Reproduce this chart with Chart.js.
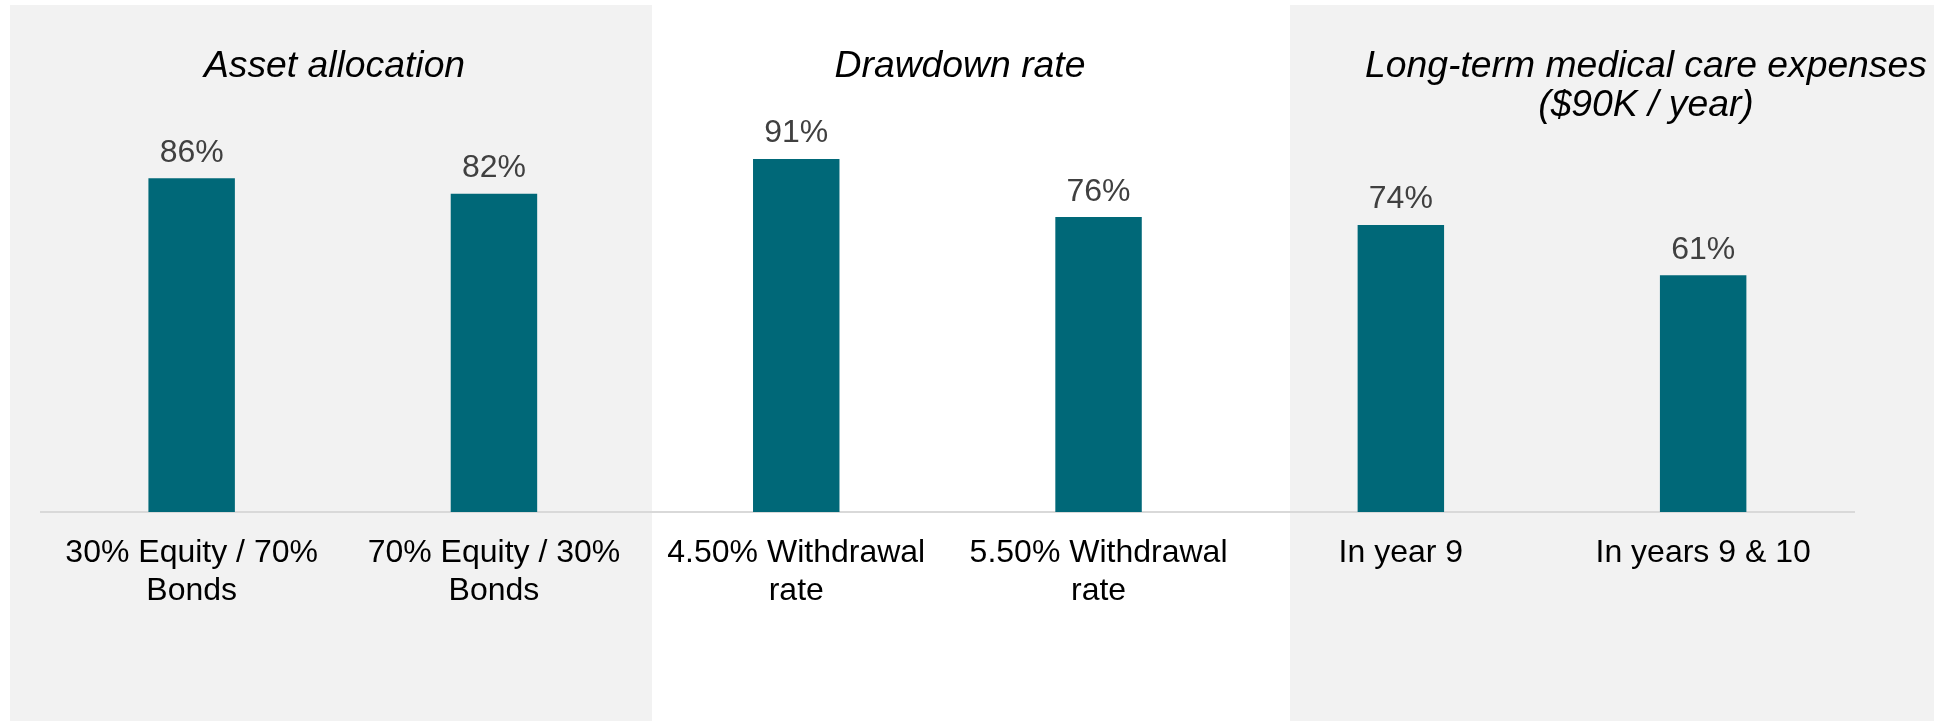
<!DOCTYPE html>
<html>
<head>
<meta charset="utf-8">
<title>Success rates by scenario</title>
<script src="https://cdn.jsdelivr.net/npm/chart.js@4/dist/chart.umd.min.js"></script>
<style>
  html, body { margin: 0; padding: 0; background: #ffffff; }
  #wrap { width: 1934px; height: 723px; }
</style>
</head>
<body>
<div id="wrap"><canvas id="grafico" width="1934" height="723"></canvas></div>
<script>
// categorias e valores (%)
const categorias = [
    ['30% Equity / 70%', 'Bonds'],
    ['70% Equity / 30%', 'Bonds'],
    ['4.50% Withdrawal', 'rate'],
    ['5.50% Withdrawal', 'rate'],
    'In year 9',
    'In years 9 & 10'
];
const sucesso = [86, 82, 91, 76, 74, 61];
const titulosGrupos = [
    ['Asset allocation'],
    ['Drawdown rate'],
    ['Long-term medical care expenses', '($90K / year)']
];

const FONTE = '"Liberation Sans", Arial, sans-serif';
const COR_BARRA = '#006878';
const COR_PAINEL = '#f2f2f2';

// faixas de fundo (cinza / branco / cinza) e centro de cada título
const paineis = [
    { x0: 10, x1: 652, cor: COR_PAINEL },
    { x0: 1290, x1: 1934, cor: COR_PAINEL }
];
const centrosTitulos = [334.5, 960, 1646];

const fundoPaineis = {
    id: 'fundoPaineis',
    beforeDraw(chart) {
        const c = chart.ctx;
        c.save();
        c.fillStyle = '#ffffff';
        c.fillRect(0, 0, chart.width, chart.height);
        paineis.forEach(p => {
            c.fillStyle = p.cor;
            c.fillRect(p.x0, 5, p.x1 - p.x0, 716);
        });
        c.restore();
    }
};

const titulos = {
    id: 'titulos',
    afterDraw(chart) {
        const c = chart.ctx;
        c.save();
        c.font = 'italic 37.3px ' + FONTE;
        c.fillStyle = '#000000';
        c.textAlign = 'center';
        c.textBaseline = 'alphabetic';
        titulosGrupos.forEach((linhas, i) => {
            linhas.forEach((txt, j) => {
                c.fillText(txt, centrosTitulos[i], 77 + j * 38.5);
            });
        });
        c.restore();
    }
};

const rotulosValores = {
    id: 'rotulosValores',
    afterDatasetsDraw(chart) {
        const c = chart.ctx;
        const meta = chart.getDatasetMeta(0);
        c.save();
        c.font = '32px ' + FONTE;
        c.fillStyle = '#404040';
        c.textAlign = 'center';
        c.textBaseline = 'alphabetic';
        meta.data.forEach((bar, i) => {
            c.fillText(sucesso[i] + '%', bar.x, bar.y - 16.5);
        });
        c.restore();
    }
};

new Chart(document.getElementById('grafico'), {
    type: 'bar',
    data: {
        labels: categorias,
        datasets: [{
            data: sucesso,
            backgroundColor: COR_BARRA,
            borderWidth: 0,
            categoryPercentage: 1,
            barPercentage: 0.286
        }]
    },
    options: {
        responsive: false,
        animation: false,
        layout: { padding: { left: 40.5, right: 79.7, top: 124, bottom: 0 } },
        plugins: {
            legend: { display: false },
            tooltip: { enabled: false }
        },
        scales: {
            x: {
                grid: { display: false, drawTicks: false },
                border: { display: true, color: '#d9d9d9', width: 2 },
                ticks: {
                    color: '#000000',
                    padding: 23,
                    maxRotation: 0,
                    autoSkip: false,
                    font: { size: 32, family: FONTE, lineHeight: 1.16 }
                },
                afterFit(scale) { scale.height = 211; }
            },
            y: {
                display: false,
                min: 0,
                max: 100
            }
        }
    },
    plugins: [fundoPaineis, titulos, rotulosValores]
});
</script>
</body>
</html>
